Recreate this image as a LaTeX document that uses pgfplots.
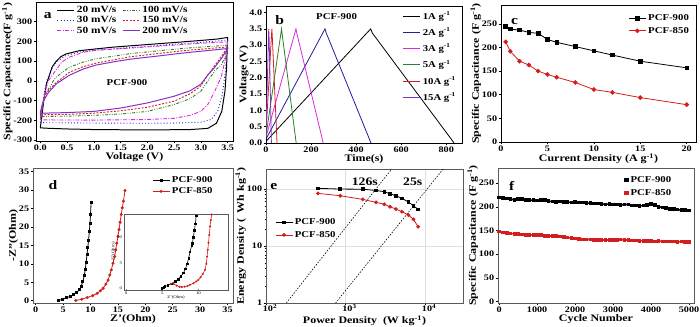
\documentclass[border=0pt]{standalone}
\usepackage{fontspec}
\setmainfont{Liberation Serif}[FakeStretch=1.2]
\usepackage{pgfplots}
\pgfplotsset{compat=1.18}

\definecolor{cvblue}{RGB}{30,30,200}
\definecolor{cvmag}{RGB}{220,40,220}
\definecolor{cvgreen}{RGB}{40,130,40}
\definecolor{cvred}{RGB}{210,30,30}
\definecolor{cvpurple}{RGB}{130,50,200}
\definecolor{gdnavy}{RGB}{30,30,160}
\definecolor{frm}{RGB}{90,90,90}

\newcommand{\tickfont}{\bfseries\fontsize{8.5}{9}\selectfont}
\newcommand{\labfont}{\bfseries\fontsize{10}{10}\selectfont}
\newcommand{\letfont}{\bfseries\fontsize{13}{13}\selectfont}

\pgfplotsset{panel/.style={
  scale only axis, anchor=south west,
  axis line style={line width=0.7pt},
  tick style={line width=0.6pt, black},
  tick align=outside, tick pos=left,
  major tick length=2.5pt, minor tick length=1.5pt,
  tick label style={font=\tickfont, inner sep=1.2pt},
  label style={font=\labfont, inner sep=0.5pt},
  /pgf/number format/assume math mode=true,
  /pgf/number format/1000 sep={},
  legend style={draw=none, fill=none, font=\bfseries\fontsize{9}{9}\selectfont},
  legend cell align=left,
  ylabel style={yshift=-1pt},
}}

\begin{document}
\begin{tikzpicture}
\useasboundingbox (0,0) rectangle (700bp,327bp);

% ---------------- panel a ----------------
\begin{axis}[panel, at={(36bp,186bp)}, width=197bp, height=139bp,
  xmin=-0.08, xmax=3.6, ymin=-305, ymax=400,
  xtick={0,0.5,...,3.5}, ytick={-300,-200,...,300},
  xticklabel style={/pgf/number format/.cd, fixed, fixed zerofill, precision=1},
  xlabel={Voltage (V)}, ylabel={Specific Capacitance(F g\textsuperscript{-1})},
  legend columns=2,
  legend style={at={(0.09,1.0)}, anchor=north west, row sep=-1.5pt,
    font=\bfseries\fontsize{9.5}{9.5}\selectfont,
    /tikz/every even column/.append style={column sep=4pt}},
]
\addplot[black, line width=1pt] coordinates {(0,-238)(0.03,-180)(0.063,-103)(0.12,-10)(0.158,17)(0.22,70)(0.285,95)(0.38,122)(0.475,136)(0.73,153)(1.04,162)(1.36,171)(1.99,184)(2.63,197)(3.0,205)(3.3,212)(3.5,220)(3.49,150)(3.48,69)(3.45,-52)(3.39,-155)(3.29,-215)(3.13,-241)(2.8,-247)(2.0,-249)(1.0,-247)(0.5,-244)(0.1,-240)(0,-238)};
\addlegendentry{20 mV/s}
\addplot[cvgreen, line width=0.9pt, dash pattern=on 3pt off 1.5pt on 0.8pt off 1.5pt on 0.8pt off 1.5pt] coordinates {(0,-181)(0.05,-120)(0.095,-69)(0.2,-20)(0.285,17)(0.54,69)(0.8,95)(1.04,112)(1.68,138)(2.63,164)(3.5,181)(3.45,120)(3.38,80)(3.26,52)(3.13,0)(3.0,-52)(2.8,-90)(2.5,-120)(2.0,-155)(1.5,-168)(1.0,-175)(0.5,-179)(0,-181)};
\addlegendentry{100 mV/s}
\addplot[cvblue, line width=0.9pt, dash pattern=on 0.9pt off 2.2pt] coordinates {(0,-212)(0.03,-150)(0.07,-70)(0.12,0)(0.2,55)(0.3,95)(0.45,125)(0.7,145)(1.0,155)(1.5,165)(2.0,175)(2.6,188)(3.0,195)(3.5,207)(3.48,120)(3.45,30)(3.4,-70)(3.32,-150)(3.2,-195)(3.0,-210)(2.5,-214)(2.0,-215)(1.0,-214)(0.5,-213)(0,-212)};
\addlegendentry{30 mV/s}
\addplot[cvred, line width=0.9pt, dash pattern=on 2pt off 1.5pt] coordinates {(0,-172)(0.05,-110)(0.095,-69)(0.2,-35)(0.285,-12)(0.54,43)(0.8,72)(1.04,90)(1.68,122)(2.63,152)(3.5,172)(3.4,130)(3.26,78)(3.13,30)(3.0,-26)(2.8,-65)(2.5,-103)(2.0,-134)(1.5,-152)(1.0,-164)(0.5,-170)(0,-172)};
\addlegendentry{150 mV/s}
\addplot[cvmag, line width=0.9pt, dash pattern=on 4pt off 1.5pt on 1pt off 1.5pt] coordinates {(0,-198)(0.05,-110)(0.095,-52)(0.15,0)(0.285,52)(0.4,95)(0.54,120)(0.8,145)(1.04,155)(1.99,172)(2.94,190)(3.5,198)(3.47,130)(3.45,103)(3.38,20)(3.26,-52)(3.13,-120)(3.0,-155)(2.8,-175)(2.5,-190)(2.0,-196)(1.0,-199)(0,-198)};
\addlegendentry{50 mV/s}
\addplot[cvpurple, line width=1pt] coordinates {(0,-164)(0.03,-125)(0.063,-100)(0.15,-60)(0.3,-15)(0.54,28)(0.8,60)(1.04,80)(1.4,98)(1.68,110)(2.2,126)(2.63,140)(3.1,153)(3.5,164)(3.4,120)(3.26,69)(3.13,30)(3.0,-17)(2.8,-50)(2.5,-78)(2.0,-112)(1.5,-138)(1.0,-155)(0.5,-161)(0,-164)};
\addlegendentry{200 mV/s}
\node[font=\letfont] at (rel axis cs:0.06,0.9) {a};
\node[font=\bfseries\fontsize{9}{9}\selectfont] at (axis cs:1.62,-8) {PCF-900};
\end{axis}

% ---------------- panel b ----------------
\begin{axis}[panel, at={(266bp,184bp)}, width=196bp, height=137bp,
  xmin=0, xmax=870, ymin=0, ymax=4.2,
  xtick={0,200,...,800}, ytick={0,0.5,...,4.0},
  yticklabel style={/pgf/number format/.cd, fixed, fixed zerofill, precision=1},
  xlabel={Time(s)}, ylabel={Voltage (V)},
  legend style={at={(0.995,0.99)}, anchor=north east, row sep=3pt},
]
\addplot[black, line width=0.8pt] coordinates {(0,0.05)(465,3.5)(471,3.38)(835,0)};
\addlegendentry{1A g\textsuperscript{-1}}
\addplot[gdnavy, line width=0.8pt] coordinates {(0,0.12)(262,3.5)(267,3.38)(466,0)};
\addlegendentry{2A g\textsuperscript{-1}}
\addplot[cvmag, line width=0.8pt] coordinates {(0,0.18)(133,3.5)(137,3.36)(254,0)};
\addlegendentry{3A g\textsuperscript{-1}}
\addplot[cvgreen, line width=0.8pt] coordinates {(0,0.22)(69,3.5)(72,3.32)(134,0)};
\addlegendentry{5A g\textsuperscript{-1}}
\addplot[cvred, line width=0.8pt] coordinates {(0,0.3)(26,3.5)(28,3.25)(49,0)};
\addlegendentry{10A g\textsuperscript{-1}}
\addplot[cvpurple, line width=0.8pt] coordinates {(0,0.35)(12,3.5)(14,3.2)(24,0)};
\addlegendentry{15A g\textsuperscript{-1}}
\node[font=\letfont] at (rel axis cs:0.07,0.9) {b};
\node[font=\bfseries\fontsize{9}{9}\selectfont] at (rel axis cs:0.36,0.92) {PCF-900};
\end{axis}

% ---------------- panel c ----------------
\begin{axis}[panel, at={(501bp,185bp)}, width=195bp, height=137bp,
  xmin=0, xmax=21, ymin=0, ymax=290,
  xtick={0,5,...,20}, ytick={0,50,...,250},
  xlabel={Current Density (A g\textsuperscript{-1})},
  ylabel={Specific Capacitance (F g\textsuperscript{-1})},
  legend style={at={(0.99,0.96)}, anchor=north east, row sep=1pt},
]
\addplot[black, line width=0.8pt, mark=square*, mark size=1.8pt] coordinates {(0.5,245)(1,239)(2,237)(3,232)(4,230)(5,217)(6,211)(8,202)(10,193)(12,184)(15,171)(20,157)};
\addlegendentry{PCF-900}
\addplot[cvred, line width=0.8pt, mark=*, mark size=1.9pt] coordinates {(0.5,212)(1,192)(2,171)(3,163)(4,150)(5,143)(6,137)(8,126)(10,111)(12,105)(15,94)(20,79)};
\addlegendentry{PCF-850}
\node[font=\letfont] at (rel axis cs:0.07,0.88) {c};
\end{axis}

% ---------------- panel d ----------------
\begin{axis}[panel, at={(33bp,24bp)}, width=200bp, height=135bp,
  axis line style={frm, line width=0.7pt},
  xmin=-0.5, xmax=36, ymin=-0.6, ymax=36,
  xtick={0,5,...,35}, ytick={0,5,...,35},
  xlabel={Z'(Ohm)}, ylabel={-Z''(Ohm)},
  legend style={at={(0.58,0.97)}, anchor=north west, row sep=0pt},
]
\addplot[black, line width=0.8pt, mark=square*, mark size=1pt] coordinates {(4.2,0.1)(4.9,0.4)(5.6,0.8)(6.3,1.2)(6.9,1.7)(7.5,2.3)(8.0,3.1)(8.3,4.0)(8.6,5.3)(8.85,6.8)(9.05,8.6)(9.2,10.5)(9.35,12.5)(9.5,14.5)(9.65,16.5)(9.78,18.8)(9.9,21)(10.0,23.5)(10.1,26.7)};
\addlegendentry{PCF-900}
\addplot[cvred, line width=0.8pt, mark=*, mark size=1.1pt] coordinates {(7.3,0.1)(8.4,0.4)(9.4,0.9)(10.4,1.4)(11.2,2.0)(11.8,2.7)(12.3,3.4)(12.8,4.5)(13.2,5.6)(13.5,7.0)(13.8,8.4)(14.1,10.2)(14.4,12.0)(14.6,13.8)(14.8,15.6)(15.0,17.5)(15.2,19.3)(15.4,21.3)(15.6,23.4)(15.8,25.2)(16.0,27.0)(16.3,29.9)};
\addlegendentry{PCF-850}
\node[font=\letfont] at (rel axis cs:0.1,0.87) {d};
\end{axis}

% inset d
\begin{axis}[scale only axis, anchor=south west, at={(124bp,37bp)}, width=104bp, height=76bp,
  axis line style={frm, line width=0.5pt},
  xmin=-0.3, xmax=14.1, ymin=-0.3, ymax=14.5,
  xtick={0,5,10}, ytick={0,5,10}, tick align=inside, tick pos=left,
  major tick length=1.5pt, tick style={line width=0.3pt},
  tick label style={font=\fontsize{4}{4}\selectfont},
  /pgf/number format/assume math mode=true,
  xlabel={Z'(Ohm)}, ylabel={-Z''(Ohm)},
  label style={font=\fontsize{4}{4}\selectfont},
  xlabel style={yshift=6pt}, ylabel style={yshift=-5pt},
  xticklabel style={yshift=1.5pt}, yticklabel style={xshift=1.5pt},
]
\addplot[black, line width=0.6pt, mark=square*, mark size=0.7pt] coordinates {(4.94,0)(5.2,0.2)(5.39,0.39)(5.8,0.6)(6.3,0.95)(6.78,1.36)(7.2,1.8)(7.6,2.4)(7.93,3.0)(8.2,3.8)(8.45,4.8)(8.65,5.9)(8.85,7.1)(9.05,8.3)(9.17,8.8)(9.3,10)(9.45,11.3)(9.58,12.6)(9.7,14.2)};
\addplot[cvred, line width=0.6pt, mark=*, mark size=0.7pt] coordinates {(6.2,0.95)(6.55,0.91)(7.0,0.55)(7.4,0.32)(7.7,0.27)(8.1,0.35)(8.5,0.5)(8.85,0.72)(9.3,1.0)(9.7,1.35)(10.0,1.69)(10.3,2.2)(10.6,2.8)(10.93,3.64)(11.1,4.8)(11.2,6.2)(11.3,7.53)(11.4,8.9)(11.5,10.4)(11.62,12.06)(11.72,13.3)(11.85,14.4)};
\end{axis}

% ---------------- panel e ----------------
\begin{axis}[panel, at={(266bp,24bp)}, width=197bp, height=134bp,
  axis line style={frm, line width=0.7pt},
  xmode=log, ymode=log, xmin=100, xmax=30000, ymin=1, ymax=225,
  grid=major, major grid style={gray!25, line width=0.4pt},
  xtick={100,1000,10000}, xticklabels={10\textsuperscript{2},10\textsuperscript{3},10\textsuperscript{4}},
  ytick={1,10,100}, yticklabels={1,10,100},
  xticklabel style={yshift=2.5pt, xshift=4pt},
  xlabel={Power Density\ \ (W kg\textsuperscript{-1})},
  ylabel={Energy Density (\ \ Wh kg\textsuperscript{-1})},
  xlabel style={at={(rel axis cs:0.5,0)}, anchor=north, yshift=-12.5pt, inner sep=0pt},
  legend style={at={(0.03,0.66)}, anchor=north west, row sep=1pt},
]
\addplot[black, line width=0.8pt, mark=square*, mark size=1.4pt] coordinates {(451,103)(859,100)(1644,99.4)(2420,94.5)(3073,89.8)(3622,82.8)(4305,76.3)(5117,68.7)(6185,59.2)(7145,51)(8180,44)};
\addlegendentry{PCF-900}
\addplot[cvred, line width=0.8pt, mark=*, mark size=1.5pt] coordinates {(451,84.1)(859,76.3)(1644,65.9)(2420,58.5)(3073,54)(3622,49)(4305,44.6)(5117,40)(6185,35)(7145,29.4)(8180,21.8)};
\addlegendentry{PCF-850}
\addplot[black, line width=0.6pt, dash pattern=on 1.5pt off 1.5pt, forget plot] coordinates {(180,1)(3800,225)};
\addplot[black, line width=0.6pt, dash pattern=on 1.5pt off 1.5pt, forget plot] coordinates {(750,1)(16900,225)};
\node[font=\bfseries\fontsize{11.5}{12}\selectfont] at (axis cs:1750,132) {126s};
\node[font=\bfseries\fontsize{11.5}{12}\selectfont] at (axis cs:7000,132) {25s};
\node[font=\letfont] at (rel axis cs:0.04,0.87) {e};
\end{axis}

% ---------------- panel f ----------------
\begin{axis}[panel, at={(498bp,24bp)}, width=196bp, height=135bp,
  axis line style={frm, line width=0.7pt},
  xmin=-30, xmax=5130, ymin=-3, ymax=282,
  xtick={0,1000,...,5000}, ytick={0,50,...,250},
  xlabel={Cycle Number}, ylabel={Specific Capacitance (F g\textsuperscript{-1})},
  legend style={at={(0.91,0.97)}, anchor=north east, row sep=2pt},
]
\addplot[black, line width=1.6pt, mark=square*, mark size=1pt,
  legend image code/.code={\fill[black] (0.3cm,0) +(-1.3pt,-1.3pt) rectangle +(1.3pt,1.3pt);}] table {
0 220
100 219
200 218
300 216
400 215
500 216
600 217
700 215
800 214
900 214
1000 213
1100 214
1200 214
1300 212
1400 211
1500 210
1600 211
1700 210
1800 210
1900 209
2000 210
2100 209
2200 209
2300 208
2400 208
2500 207
2600 207
2700 206
2800 205
2900 206
3000 205
3100 205
3200 204
3300 205
3400 205
3500 203
3600 203
3700 202
3800 203
3900 204
4000 206
4100 204
4200 200
4300 199
4400 197
4500 196
4600 195
4700 194
4800 193
4900 193
5000 192
};
\addlegendentry{PCF-900}
\addplot[cvred, line width=1.6pt, mark=square*, mark size=1pt,
  legend image code/.code={\fill[cvred] (0.3cm,0) +(-1.3pt,-1.3pt) rectangle +(1.3pt,1.3pt);}] table {
0 148
100 146
200 145
300 144
400 143
500 143
600 142
700 141
800 141
900 140
1000 140
1100 140
1200 139
1300 139
1400 138
1500 138
1600 137
1700 136
1800 135
1900 134
2000 133
2100 132
2200 131
2300 131
2400 131
2500 130
2600 130
2700 130
2800 130
2900 130
3000 130
3100 130
3200 131
3300 130
3400 130
3500 129
3600 129
3700 128
3800 128
3900 128
4000 128
4100 127
4200 128
4300 127
4400 127
4500 127
4600 127
4700 126
4800 127
4900 126
5000 126
};
\addlegendentry{PCF-850}
\node[font=\letfont] at (rel axis cs:0.07,0.87) {f};
\end{axis}
\end{tikzpicture}
\end{document}
